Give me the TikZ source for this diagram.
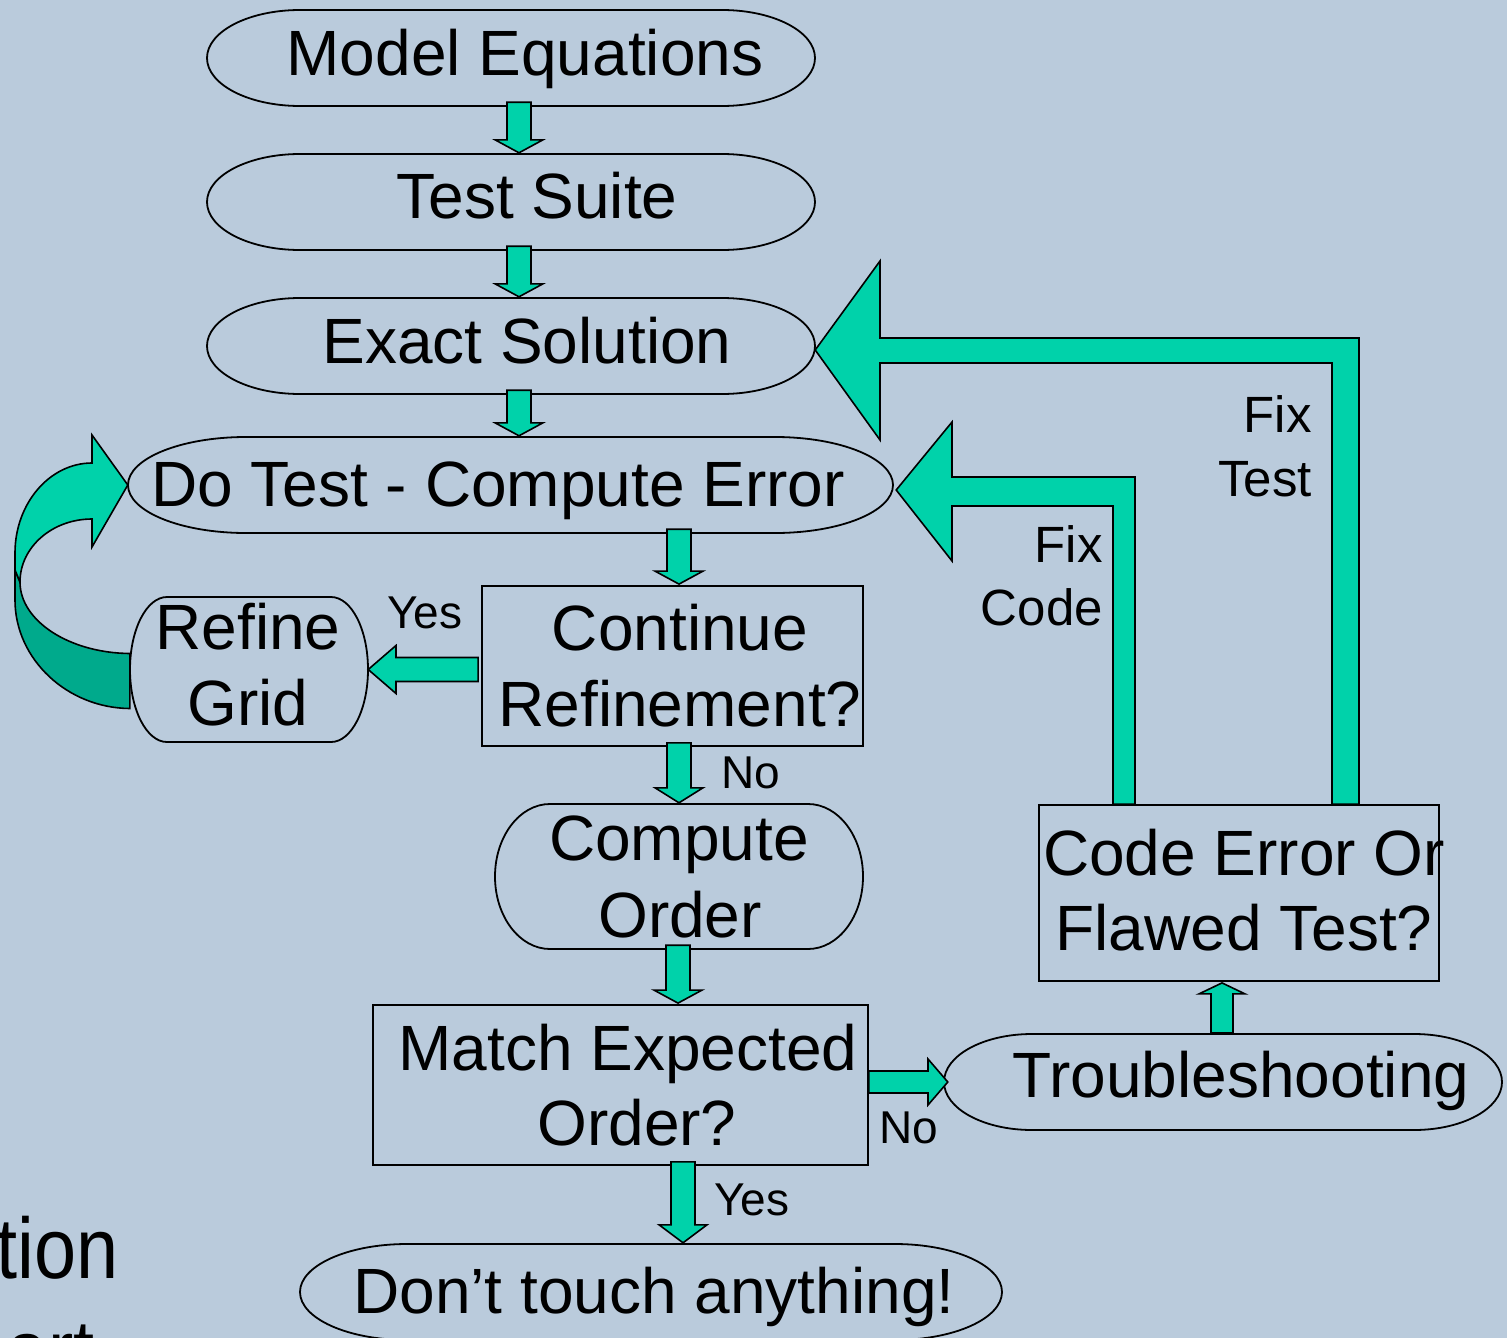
\documentclass[tikz,border=0pt]{standalone}
\usepackage{fontspec}
\setmainfont{Liberation Sans}
\usetikzlibrary{calc}
\definecolor{bg}{RGB}{186,203,220}
\definecolor{grn}{RGB}{0,210,170}
\definecolor{grndark}{RGB}{0,170,140}
\tikzset{
 shp/.style={draw=black, line width=1.8pt},
 blk/.style={fill=grn, draw=black, line width=1.6pt, line join=miter},
 blkd/.style={fill=grndark, draw=black, line width=1.6pt},
 mtxt/.style={font=\fontsize{64}{76}\selectfont, inner sep=0pt, anchor=base},
 ltxt/.style={font=\fontsize{46}{54}\selectfont, inner sep=0pt, anchor=base},
 ftxt/.style={font=\fontsize{51}{60}\selectfont, inner sep=0pt, anchor=base east},
 btxt/.style={font=\fontsize{86}{100}\selectfont, inner sep=0pt, anchor=base east, xscale=0.88},
}
% terminator: name, x1, y1, x2, y2, rx
\newcommand\termshape[6]{%
 \pgfmathsetmacro\TmA{#2+#6}\pgfmathsetmacro\TmB{#4-#6}%
 \pgfmathsetmacro\TmC{(#3+#5)/2}\pgfmathsetmacro\TmR{(#5-#3)/2}%
 \pgfmathsetmacro\TmK{0.5523*#6}\pgfmathsetmacro\TmQ{0.5523*\TmR}%
 \node[inner sep=0pt, minimum width={#4-#2}, minimum height={#5-#3}] (#1) at ({(#2+#4)/2},\TmC) {};
 \draw[shp] (\TmA,#3) -- (\TmB,#3) .. controls ({\TmB+\TmK},#3) and (#4,{\TmC-\TmQ}) .. (#4,\TmC)
   .. controls (#4,{\TmC+\TmQ}) and ({\TmB+\TmK},#5) .. (\TmB,#5) -- (\TmA,#5)
   .. controls ({\TmA-\TmK},#5) and (#2,{\TmC+\TmQ}) .. (#2,\TmC)
   .. controls (#2,{\TmC-\TmQ}) and ({\TmA-\TmK},#3) .. (\TmA,#3) -- cycle;
}
% down block arrow: [head length], x, from anchor, to anchor
\newcommand\blkdn[4][14]{%
 \path[blk] let \p1=(#3), \p2=(#4) in
  (#2pt-12pt,\y1+4pt) -- (#2pt+12pt,\y1+4pt) -- (#2pt+12pt,\y2+#1pt) -- (#2pt+24pt,\y2+#1pt)
  -- (#2pt,\y2+1pt) -- (#2pt-24pt,\y2+#1pt) -- (#2pt-12pt,\y2+#1pt) -- cycle;
}
\begin{document}
\begin{tikzpicture}[x=1pt,y=-1pt]
\useasboundingbox (0,0) rectangle (1507,1338);
\clip (0,0) rectangle (1507,1338);
\fill[bg] (0,0) rectangle (1507,1338);

% shapes
\termshape{me}{207}{10}{815}{106}{93}
\termshape{ts}{207}{154}{815}{250}{93}
\termshape{es}{207}{298}{815}{394}{93}
\termshape{dt}{128}{437}{893}{533}{118}
\termshape{rg}{130}{597}{368}{742}{37}
\node[shp, inner sep=0pt, minimum width=381, minimum height=160] (cr) at (672.5,666) {};
\termshape{co}{495}{804}{863}{949}{55}
\node[shp, inner sep=0pt, minimum width=495, minimum height=160] (mt) at (620.5,1085) {};
\termshape{tr}{944}{1034}{1502}{1130}{88}
\node[shp, inner sep=0pt, minimum width=400, minimum height=176] (ce) at (1239,893) {};
\termshape{dn}{300}{1244}{1002}{1340}{107}

% texts
\node[mtxt] (me-t) at (525,75) {Model Equations};
\node[mtxt] (ts-t) at (537,218) {Test Suite};
\node[mtxt] (es-t) at (527,363) {Exact Solution};
\node[mtxt] (dt-t) at (498,506) {Do Test - Compute Error};
\node[mtxt] (rg-t1) at (248,649) {Refine};
\node[mtxt] (rg-t2) at (248,725) {Grid};
\node[mtxt] (cr-t1) at (680,650) {Continue};
\node[mtxt] (cr-t2) at (680,726) {Refinement?};
\node[mtxt] (co-t1) at (679,860) {Compute};
\node[mtxt] (co-t2) at (680,937) {Order};
\node[mtxt] (mt-t1) at (628,1070) {Match Expected};
\node[mtxt] (mt-t2) at (637,1145) {Order?};
\node[mtxt] (tr-t) at (1241,1097) {Troubleshooting};
\node[mtxt] (ce-t1) at (1244,875) {Code Error Or};
\node[mtxt] (ce-t2) at (1244,950) {Flawed Test?};
\node[mtxt] (dn-t) at (654,1313) {Don’t touch anything!};

% labels
\node[ltxt] (l-yes1) at (425,628) {Yes};
\node[ltxt] (l-no1) at (751,788) {No};
\node[ltxt] (l-no2) at (909,1143) {No};
\node[ltxt] (l-yes2) at (752,1215) {Yes};
\node[ftxt] (l-fc1) at (1103,562) {Fix};
\node[ftxt] (l-fc2) at (1103,625) {Code};
\node[ftxt] (l-ft1) at (1312,432) {Fix};
\node[ftxt] (l-ft2) at (1312,496) {Test};

% partial slide text at bottom left
\node[btxt] (s-1) at (119,1278) {tion};
\node[btxt] (s-2) at (95,1380) {art};

% vertical block arrows
\blkdn{519}{me.south}{ts.north}
\blkdn{519}{ts.south}{es.north}
\blkdn{519}{es.south}{dt.north}
\blkdn{679}{dt.south}{cr.north}
\blkdn[16]{679}{cr.south}{co.north}
\blkdn{678}{co.south}{mt.north}
\blkdn[19]{683}{mt.south}{dn.north}

% Continue -> Refine Grid (Yes)
\path[blk] let \p1=(cr.west), \p2=(rg.east) in
 (\x1-3pt,\y2+12pt) -- (396pt,\y2+12pt) -- (396pt,\y2+24pt) -- (\x2,\y2)
 -- (396pt,\y2-24pt) -- (396pt,\y2-12pt) -- (\x1-3pt,\y2-12pt) -- cycle;

% Match -> Troubleshooting (No)
\path[blk] let \p1=(mt.east), \p2=(tr.west) in
 (\x1,\y2+11pt) -- (928pt,\y2+11pt) -- (928pt,\y2+23pt) -- (\x2+4pt,\y2)
 -- (928pt,\y2-23pt) -- (928pt,\y2-11pt) -- (\x1,\y2-11pt) -- cycle;

% Troubleshooting -> Code Error
\path[blk] let \p1=(tr.north), \p2=(ce.south) in
 (1211pt,\y1+1pt) -- (1211pt,\y2-12pt) -- (1199pt,\y2-12pt) -- (1222pt,\y2-1pt)
 -- (1245pt,\y2-12pt) -- (1233pt,\y2-12pt) -- (1233pt,\y1+1pt) -- cycle;

% Fix Test: Code Error -> Exact Solution
\path[blk] let \p1=(es.east), \p2=(ce.north) in
 (\x1,\y1-4pt) -- (880pt,\y1+85pt) -- (880pt,\y1+8pt) -- (1359pt,\y1+8pt)
 -- (1359pt,\y2) -- (1332pt,\y2) -- (1332pt,\y1-17pt) -- (880pt,\y1-17pt)
 -- (880pt,\y1-94pt) -- cycle;

% Fix Code: Code Error -> Do Test
\path[blk] let \p1=(dt.east), \p2=(ce.north) in
 (\x1+3pt,\y1-5pt) -- (952pt,\y1+63pt) -- (952pt,\y1+8pt) -- (1135pt,\y1+8pt)
 -- (1135pt,\y2) -- (1113pt,\y2) -- (1113pt,\y1-21pt) -- (952pt,\y1-21pt)
 -- (952pt,\y1-76pt) -- cycle;

% curved arrow: Refine Grid -> Do Test
\path[blkd] ($(rg.west)+(0,-16)$) .. controls (69.5,653) and (20,621) .. (20,582)
 -- (15,570) -- (15,600) .. controls (15,659) and (67,708) .. ($(rg.west)+(0,39)$) -- cycle;
\path[blk] (15,570) -- (15,553) .. controls (15,503.5) and (49.6,463) .. (92,463)
 -- (92,435) -- (dt.west) -- (92,547) -- (92,519)
 .. controls (52.4,519) and (20,547) .. (20,582) -- cycle;
\end{tikzpicture}
\end{document}
